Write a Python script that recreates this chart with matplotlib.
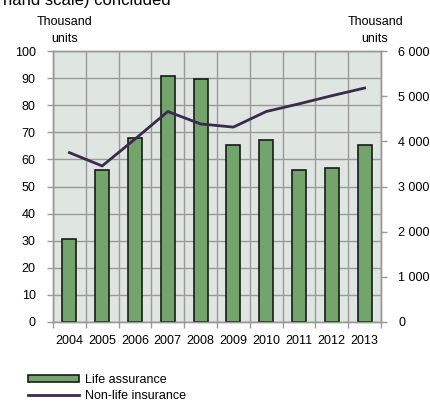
import matplotlib
matplotlib.use("Agg")
import matplotlib.pyplot as plt
import numpy as np

plt.rcParams['font.family'] = ['Liberation Sans', 'DejaVu Sans']
plt.rcParams['font.size'] = 9

years = ['2004', '2005', '2006', '2007', '2008', '2009', '2010', '2011', '2012', '2013']
life = [30.6, 56.1, 67.8, 90.6, 89.6, 65.3, 67.2, 56.1, 56.7, 65.3]
non_life = [3750, 3455, 4050, 4660, 4385, 4315, 4660, 4830, 5010, 5180]

bg = '#dfe5e0'
grid_col = '#9a9a9a'
bar_col = '#72a46c'
line_col = '#3b2a4e'

fig = plt.figure(figsize=(4.31, 4.03), dpi=100)
ax = fig.add_axes([53/431, 1-322/403, (381-53)/431, (322-51)/403])
ax.set_facecolor(bg)

x = np.arange(len(years))
ax.bar(x, life, width=0.43, color=bar_col, edgecolor='#1a1a1a', linewidth=1.2,
       label='Life assurance', zorder=3)
ax.set_xlim(-0.5, len(years) - 0.5)
ax.set_ylim(0, 100)
ax.set_yticks(np.arange(0, 101, 10))
ax.set_xticks(x)
ax.set_xticklabels(years)
ax.tick_params(axis='x', length=0, pad=9)
ax.set_xticks(np.arange(-0.5, len(years), 1), minor=True)
ax.tick_params(axis='x', which='minor', length=4, color=grid_col, width=1)
ax.tick_params(axis='y', length=4, color=grid_col, width=1, pad=8.5)
ax.grid(True, axis='y', color=grid_col, linewidth=1, zorder=1)
ax.grid(True, axis='x', which='minor', color=grid_col, linewidth=1, zorder=1)
for s in ax.spines.values():
    s.set_color(grid_col)
    s.set_linewidth(1)

ax2 = ax.twinx()
ax2.plot(x, non_life, color=line_col, linewidth=2, label='Non-life insurance', zorder=4)
ax2.set_ylim(0, 6000)
ax2.set_yticks(np.arange(0, 6001, 1000))
ax2.set_yticklabels(['0' if v == 0 else f'{v // 1000} {v % 1000:03d}' for v in range(0, 6001, 1000)])
ax2.tick_params(axis='y', length=4, color=grid_col, width=1, pad=8.5)
for s in ax2.spines.values():
    s.set_color(grid_col)
    s.set_linewidth(1)

# axis unit captions
fig.text(65/431, 1-22/403, 'Thousand', ha='center', va='center')
fig.text(65/431, 1-39/403, 'units', ha='center', va='center')
fig.text(376/431, 1-22/403, 'Thousand', ha='center', va='center')
fig.text(375/431, 1-39/403, 'units', ha='center', va='center')

# heading line running off the top
fig.text(3/431, 1-5/403, 'hand scale) concluded', ha='left', va='baseline', fontsize=12)

h1, l1 = ax.get_legend_handles_labels()
h2, l2 = ax2.get_legend_handles_labels()
fig.legend(h1 + h2, l1 + l2, loc='upper left', bbox_to_anchor=(28/431, 1-374/403),
           frameon=False, handlelength=4.1, handleheight=0.55, handletextpad=0.45,
           labelspacing=0.3, borderaxespad=0, borderpad=0)

fig.savefig('out.png', dpi=100)
